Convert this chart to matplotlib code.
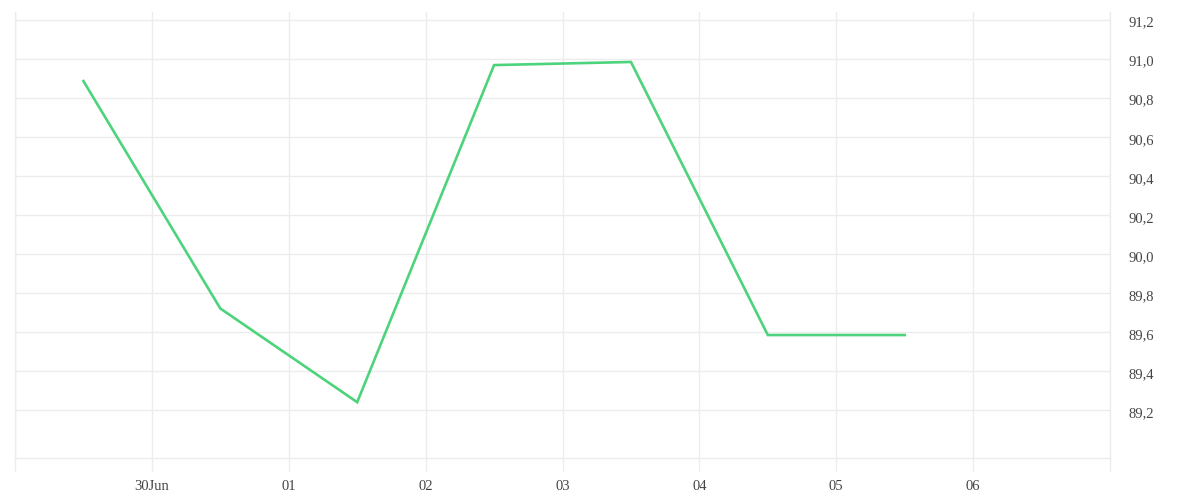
import matplotlib
matplotlib.use("Agg")
import matplotlib.pyplot as plt
import matplotlib.transforms as mtransforms
from matplotlib.ticker import FuncFormatter
import datetime as dt

# data (daily points at midday)
dates = ["2023-06-29 12:00", "2023-06-30 12:00", "2023-07-01 12:00", "2023-07-02 12:00",
         "2023-07-03 12:00", "2023-07-04 12:00", "2023-07-05 12:00"]
values = [90.885, 89.72, 89.24, 90.967, 90.983, 89.584, 89.584]
y_ticks = [89.2, 89.4, 89.6, 89.8, 90.0, 90.2, 90.4, 90.6, 90.8, 91.0, 91.2]
x_days = ["2023-06-29", "2023-06-30", "2023-07-01", "2023-07-02", "2023-07-03",
          "2023-07-04", "2023-07-05", "2023-07-06", "2023-07-07"]
x_labels = ["", "30Jun", "01", "02", "03", "04", "05", "06", ""]

grid_col = "#ececec"
text_col = "#444444"
line_col = "#4cd37b"

plt.rcParams["font.family"] = ["Liberation Serif", "DejaVu Serif"]

x = [dt.datetime.strptime(d, "%Y-%m-%d %H:%M") for d in dates]
xt = [dt.datetime.strptime(d, "%Y-%m-%d") for d in x_days]

fig = plt.figure(figsize=(12, 5), dpi=100)
ax = fig.add_axes([0.0125, 0.084, 0.9125, 0.892])

ax.plot(x, values, color=line_col, linewidth=1.9, solid_joinstyle="miter", zorder=3)

ax.set_xlim(xt[0], xt[-1])
ax.set_ylim(88.954, 91.239)

ax.set_xticks(xt)
ax.set_xticklabels(x_labels)
ax.set_yticks(y_ticks)
ax.yaxis.set_major_formatter(FuncFormatter(lambda v, p: f"{v:.1f}".replace(".", ",")))
ax.yaxis.tick_right()

ax.grid(True, color=grid_col, linewidth=1)
ax.set_axisbelow(True)

ax.tick_params(axis="x", length=9, width=1, color=grid_col, labelcolor=text_col,
               labelsize=10.5, pad=7)
ax.tick_params(axis="y", length=0, labelcolor=text_col, labelsize=10.5, pad=13)
# labels sit a little below their gridline in the reference
shift = mtransforms.ScaledTranslation(0, -2 / 100, fig.dpi_scale_trans)
for lbl in ax.get_yticklabels():
    lbl.set_horizontalalignment("left")
    lbl.set_transform(lbl.get_transform() + shift)

for side in ["left", "right", "bottom"]:
    ax.spines[side].set_color(grid_col)
    ax.spines[side].set_linewidth(1)
ax.spines["top"].set_visible(False)

fig.savefig("out.png", dpi=100, facecolor="white")
